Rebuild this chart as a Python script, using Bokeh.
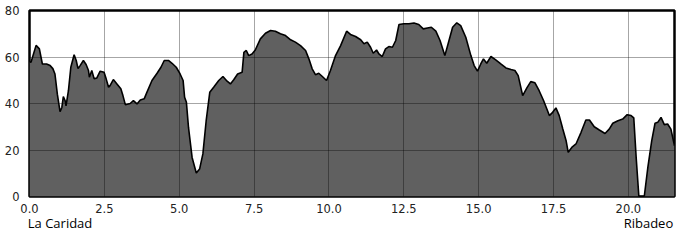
from bokeh.plotting import figure
from bokeh.models import Range1d, FixedTicker, PrintfTickFormatter, LinearAxis
from bokeh.embed import file_html
from bokeh.resources import INLINE

km = [0.0, 0.05, 0.22, 0.33, 0.43, 0.57, 0.69, 0.78, 0.85, 0.93, 1.02, 1.08, 1.13, 1.19, 1.22,
      1.30, 1.38, 1.49, 1.56, 1.62, 1.69, 1.80, 1.89, 1.97, 2.00, 2.08, 2.16, 2.25, 2.36, 2.49,
      2.56, 2.64, 2.69, 2.80, 2.92, 3.05, 3.12, 3.20, 3.36, 3.47, 3.59, 3.70, 3.83, 3.92, 4.09,
      4.26, 4.39, 4.50, 4.64, 4.76, 4.90, 5.03, 5.13, 5.18, 5.24, 5.31, 5.43, 5.57, 5.68, 5.79,
      5.90, 6.02, 6.15, 6.32, 6.46, 6.60, 6.71, 6.82, 6.95, 7.10, 7.16, 7.24, 7.32, 7.43, 7.54,
      7.71, 7.88, 8.05, 8.21, 8.38, 8.55, 8.72, 8.88, 9.05, 9.22, 9.33, 9.44, 9.55, 9.66, 9.78,
      9.92, 10.05, 10.22, 10.39, 10.59, 10.72, 10.89, 11.06, 11.17, 11.28, 11.39, 11.48, 11.59,
      11.67, 11.78, 11.89, 12.00, 12.12, 12.23, 12.34, 12.50, 12.67, 12.84, 13.00, 13.15, 13.29,
      13.42, 13.57, 13.71, 13.87, 13.98, 14.13, 14.27, 14.40, 14.57, 14.74, 14.85, 14.96, 15.07,
      15.16, 15.27, 15.41, 15.57, 15.74, 15.91, 16.08, 16.21, 16.32, 16.47, 16.61, 16.74, 16.88,
      17.02, 17.17, 17.30, 17.36, 17.47, 17.58, 17.69, 17.81, 17.92, 17.99, 18.11, 18.25, 18.42,
      18.58, 18.70, 18.86, 19.03, 19.22, 19.36, 19.48, 19.65, 19.81, 19.96, 20.09, 20.18, 20.26,
      20.35, 20.53, 20.65, 20.78, 20.89, 20.98, 21.09, 21.20, 21.31, 21.42, 21.54]

elevation = [58, 57.7, 65, 63.5, 57, 57, 56.3, 55, 52.7, 44, 36.5, 38.3, 43, 41.2, 39,
             45.5, 55.6, 61, 58.5, 55, 56.3, 58.5, 56.8, 54.2, 51.3, 54.2, 50.6, 51, 53.9, 53.4,
             50.6, 47, 47.7, 50.3, 48.4, 46.3, 43.4, 39.5, 40, 41.2, 39.8, 41.5, 42, 44.8, 49.9,
             53, 55.6, 58.5, 58.5, 57.3, 55.6, 52.7, 49.9, 42.7, 40.5, 29.7, 16.8, 10.1, 11.8, 18.3,
             32.6, 44.8, 47, 49.9, 51.6, 49.6, 48.4, 50.2, 52.7, 53.4, 62, 62.8, 60.6, 61.3, 63,
             67.8, 70.2, 71.4, 71.1, 70, 69.2, 67.4, 66.4, 64.9, 62.8, 59.2, 54.9, 52.4, 53, 51.6,
             49.9, 54.2, 60.6, 64.9, 71.1, 69.7, 68.8, 67.4, 65.7, 66.4, 64.2, 61.6, 63,
             61.3, 60.2, 63.5, 64.5, 64.2, 67.1, 74, 74.3, 74.3, 74.6, 74, 72.1, 72.5,
             72.8, 71.1, 67.1, 60.6, 65.7, 72.8, 74.7, 73.5, 68.5, 60.6, 56.3, 53.9, 57,
             59.2, 57.3, 60.2, 58.8, 57, 55.3, 54.6, 54.2, 52, 43.4, 46.7, 49.4, 48.9,
             45.5, 41.2, 36.9, 34.8, 36.2, 38.1, 34.8, 29, 24, 19, 21.1, 22.6, 27.6,
             32.9, 32.9, 30, 28.6, 27.1, 29, 31.5, 32.6, 33.3, 35.2, 34.8, 33.8, 16.8,
             0, 0, 12.5, 24, 31.5, 31.9, 34, 30.9, 31.2, 29, 21.8]

x_ticks = [0, 2.5, 5, 7.5, 10, 12.5, 15, 17.5, 20]
y_ticks = [0, 20, 40, 60, 80]
place_names = ["La Caridad", "Ribadeo"]
place_km = [1.02, 20.67]

p = figure(width=700, height=240, output_backend="svg", toolbar_location=None,
           x_range=Range1d(0, km[-1]), y_range=Range1d(0, 80),
           min_border_left=29, min_border_right=26, min_border_top=10, min_border_bottom=44)
p.background_fill_color = "white"
p.border_fill_color = "white"
p.outline_line_color = "black"
p.outline_line_width = 2.5

p.varea(x=km, y1=0, y2=elevation, fill_color="#606060")
p.line(km, elevation, line_color="black", line_width=1.6)

for g in (p.xgrid, p.ygrid):
    g.grid_line_color = "black"
    g.grid_line_alpha = 0.35
    g.grid_line_width = 1
    g.level = "overlay"
p.xgrid.ticker = FixedTicker(ticks=x_ticks)
p.ygrid.ticker = FixedTicker(ticks=y_ticks)

p.xaxis.ticker = FixedTicker(ticks=x_ticks)
p.yaxis.ticker = FixedTicker(ticks=y_ticks)
p.xaxis.formatter = PrintfTickFormatter(format="%.1f")
p.yaxis.formatter = PrintfTickFormatter(format="%d")
for ax in (p.xaxis, p.yaxis):
    ax.axis_line_color = None
    ax.major_tick_line_color = None
    ax.minor_tick_line_color = None
    ax.major_label_text_font = "DejaVu Sans"
    ax.major_label_text_font_size = "11.5px"
    ax.major_label_text_color = "#222222"
p.xaxis.major_label_standoff = 1
p.yaxis.major_label_standoff = 4

names_axis = LinearAxis(ticker=FixedTicker(ticks=place_km),
                        major_label_overrides={place_km[i]: place_names[i] for i in range(len(place_km))},
                        axis_line_color=None, major_tick_line_color=None, minor_tick_line_color=None,
                        major_label_text_font="Open Sans", major_label_text_font_size="13px",
                        major_label_text_color="black", major_label_standoff=-8)
p.add_layout(names_axis, "below")

open("out.html", "w").write(file_html(p, INLINE))
